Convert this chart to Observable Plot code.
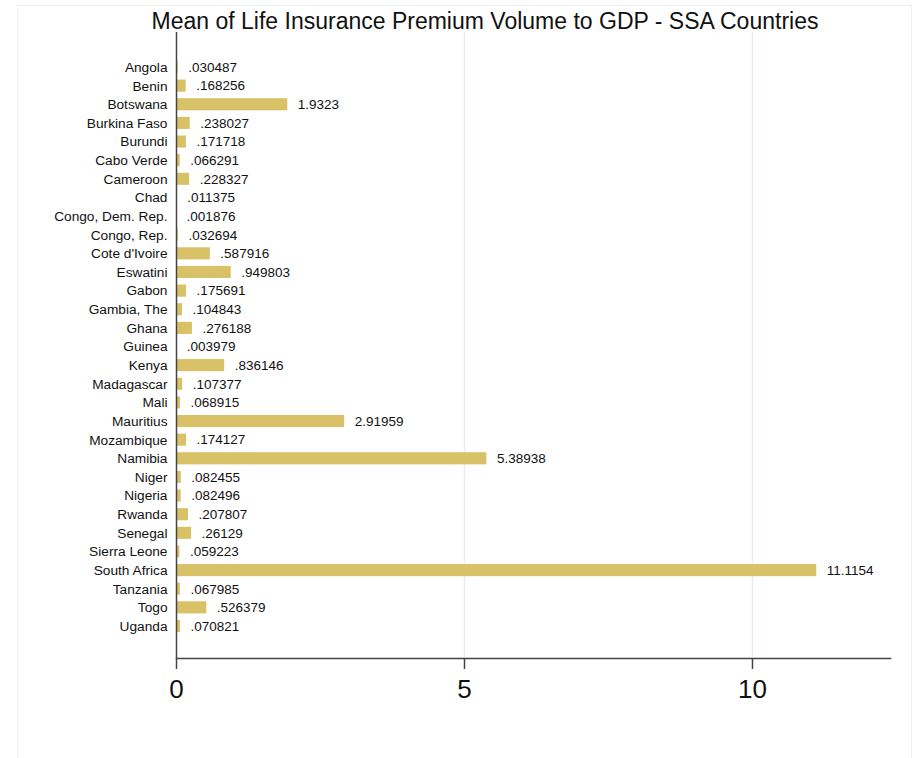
<!DOCTYPE html>
<html>
<head>
<meta charset="utf-8">
<script src="https://cdn.jsdelivr.net/npm/d3@7"></script>
<script src="https://cdn.jsdelivr.net/npm/@observablehq/plot@0.6"></script>
<style>
  html, body { margin: 0; padding: 0; background: #fff; }
  #wrap { position: relative; width: 914px; height: 758px; overflow: hidden; font-family: "Liberation Sans", Arial, sans-serif; }
  #border { position: absolute; left: 17px; top: 5px; width: 895px; height: 800px; border: 1.5px solid #e9f1f2; box-sizing: border-box; }
  #title { position: absolute; left: 485px; top: 9px; transform: translateX(-50%); white-space: nowrap; font-size: 23px; line-height: 24px; color: #111; }
  #chart { position: absolute; left: 0; top: 0; }
</style>
</head>
<body>
<div id="wrap">
  <div id="border"></div>
  <div id="chart"></div>
  <div id="title">Mean of Life Insurance Premium Volume to GDP - SSA Countries</div>
</div>
<script>
const countries = [
  "Angola", "Benin", "Botswana", "Burkina Faso", "Burundi", "Cabo Verde", "Cameroon",
  "Chad", "Congo, Dem. Rep.", "Congo, Rep.", "Cote d'Ivoire", "Eswatini", "Gabon",
  "Gambia, The", "Ghana", "Guinea", "Kenya", "Madagascar", "Mali", "Mauritius",
  "Mozambique", "Namibia", "Niger", "Nigeria", "Rwanda", "Senegal", "Sierra Leone",
  "South Africa", "Tanzania", "Togo", "Uganda"
];
const values = [
  0.030487, 0.168256, 1.9323, 0.238027, 0.171718, 0.066291, 0.228327,
  0.011375, 0.001876, 0.032694, 0.587916, 0.949803, 0.175691,
  0.104843, 0.276188, 0.003979, 0.836146, 0.107377, 0.068915, 2.91959,
  0.174127, 5.38938, 0.082455, 0.082496, 0.207807, 0.26129, 0.059223,
  11.1154, 0.067985, 0.526379, 0.070821
];
const xTicks = [0, 5, 10];
const gridTicks = [5, 10];

const data = countries.map((c, i) => ({country: c, value: values[i]}));
const fmt = v => String(v).replace(/^0\./, ".");

const chart = Plot.plot({
  width: 914,
  height: 758,
  marginLeft: 176,
  marginRight: 24,
  marginTop: 32,
  marginBottom: 100,
  style: {background: "transparent", fontFamily: "'Liberation Sans', Arial, sans-serif", color: "#111"},
  x: {domain: [0, 12.396], axis: null},
  y: {domain: countries, range: [57.68, 635.32], paddingInner: 0.35, paddingOuter: 0.175, align: 0.5, round: false, axis: null},
  marks: [
    Plot.ruleX(gridTicks, {stroke: "#e6eef0", strokeWidth: 1.5}),
    Plot.barX(data, {x: "value", y: "country", fill: "#d9c168"}),
    Plot.text(data, {x: "value", y: "country", text: d => fmt(d.value), textAnchor: "start", dx: 10, fontSize: 13.5, fill: "#111"}),
    Plot.axisY({tickSize: 0, tickPadding: 9, fontSize: 13.7, label: null, fill: "#111"}),
    Plot.axisX({ticks: xTicks, tickSize: 11, tickPadding: 10, fontSize: 26, label: null, stroke: "#444", strokeWidth: 1.5, fill: "#111", tickFormat: d => String(d)}),
    Plot.ruleX([0], {stroke: "#444", strokeWidth: 1.5}),
    Plot.frame({anchor: "bottom", stroke: "#444", strokeWidth: 1.5})
  ]
});
document.getElementById("chart").appendChild(chart);
</script>
</body>
</html>
